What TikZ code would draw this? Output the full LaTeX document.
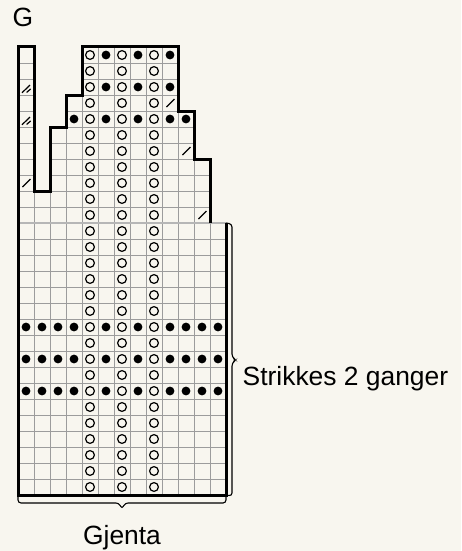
\documentclass[tikz,border=0pt]{standalone}
\usepackage{fontspec}
\setmainfont{Liberation Sans}
\usepackage{xcolor}
\usetikzlibrary{positioning}

\definecolor{paper}{HTML}{F8F6EF}
\definecolor{gridgray}{HTML}{9C9C9C}
\definecolor{repeatgray}{HTML}{B6B6B6}

\tikzset{
  gridline/.style={gridgray, line width=0.9pt, step=1},
  repeatline/.style={repeatgray, line width=2pt},
  outline/.style={black, line width=3pt, line join=miter},
  yarnover/.style={black, line width=1.2pt},
  purldot/.style={black},
  slashmark/.style={black, line width=1.2pt},
  bracket/.style={black, line width=1.1pt, rounded corners=3pt},
  chartlabel/.style={font=\fontsize{26.4}{30}\selectfont, inner sep=0pt},
}

\begin{document}
\begin{tikzpicture}[x=1pt, y=-1pt]
    \fill[paper] (0,0) rectangle (461,551);
    \useasboundingbox (0,0) rectangle (461,551);

    % ============================================================
    % Chart - one square per stitch, row 1 at the bottom
    % ============================================================
    \begin{scope}[shift={(18,495)}, x=16pt, y=16pt]
        % Grid, lower part full width, upper part column by column
        \draw[gridline] (0,0) grid (13,17);
        \foreach \c/\t in {1/28,2/19,3/23,4/25,5/28,6/28,7/28,8/28,9/28,10/28,11/24,12/21}
            \draw[gridline] (\c-1,17) grid (\c,\t);

        % Repeat line
        \draw[repeatline] (0,17) -- (13,17);

        % Outline
        \draw[outline] (13,17) -- (13,0) -- (0,0) -- (0,28) -- (1,28) -- (1,19)
            -- (2,19) -- (2,23) -- (3,23) -- (3,25) -- (4,25) -- (4,28)
            -- (10,28) -- (10,24) -- (11,24) -- (11,21) -- (12,21) -- (12,17);

        % Yarn overs in columns 5, 7 and 9
        \foreach \r in {1,...,28}
            \foreach \c in {5,7,9}
                \draw[yarnover] (\c-0.5,\r-0.5) circle (4.4pt);

        % Purl dots
        \foreach \r in {7,9,11}
            \foreach \c in {1,2,3,4,6,8,10,11,12,13}
                \fill[purldot] (\c-0.5,\r-0.5) circle (4.4pt);
        \foreach \c in {4,6,8,10,11}
            \fill[purldot] (\c-0.5,23.5) circle (4.4pt);
        \foreach \r in {26,28}
            \foreach \c in {6,8,10}
                \fill[purldot] (\c-0.5,\r-0.5) circle (4.4pt);

        % Decreases
        \foreach \c/\r in {1/20,10/25,11/22,12/18}
            \draw[slashmark] (\c-0.72,\r-0.75) -- (\c-0.22,\r-0.25);
        \foreach \r in {24,26} {
            \draw[slashmark] (0.25,\r-0.86) -- (0.75,\r-0.38);
            \draw[slashmark] (0.54,\r-0.84) -- (0.79,\r-0.62);
        }

        \coordinate (chartNE) at (13,17);
        \coordinate (chartSE) at (13,0);
        \coordinate (chartSW) at (0,0);
    \end{scope}

    % ============================================================
    % Brackets and texts
    % ============================================================
    \draw[bracket] (chartNE) -- (232,224) -- (232,357) -- (236,360) -- (232,363)
        -- (232,496) -- (chartSE);
    \draw[bracket] (chartSW) -- (18,503) -- (119,503) -- (122,509) -- (125,503)
        -- (226,503) -- (chartSE);

    \node[chartlabel, anchor=base west] (title) at (12.5,26.7) {G};
    \node[chartlabel, anchor=base west] (repeatnote) at (242.5,385.7) {Strikkes 2 ganger};
    \node[chartlabel, anchor=base] (widthnote) at (122,544) {Gjenta};
\end{tikzpicture}
\end{document}
